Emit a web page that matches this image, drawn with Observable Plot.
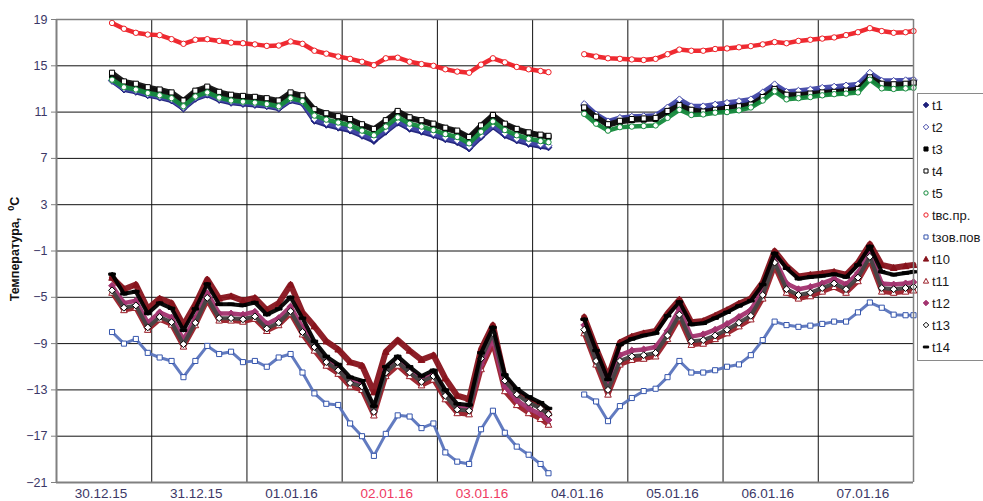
<!DOCTYPE html>
<html><head><meta charset="utf-8">
<script src="https://cdn.jsdelivr.net/npm/d3@7"></script>
<script src="https://cdn.jsdelivr.net/npm/@observablehq/plot@0.6"></script>
<style>
html,body{margin:0;padding:0;background:#fff;}
#chart{width:983px;height:501px;overflow:hidden;position:relative;}
</style></head><body><div id="chart"></div>
<script>
// hours since 30.12.15 00:00
const hours = [14,17,20,23,26,29,32,35,38,41,44,47,50,53,56,59,62,65,68,71,74,77,80,83,86,89,92,95,98,101,104,107,110,113,116,119,122,124,
  133,136,139,142,145,148,151,154,157,160,163,166,169,172,175,178,181,184,187,190,193,196,199,202,205,208,211,214,216];

const t1 = [13.7,12.95,12.75,12.45,12.25,12.0,11.3,12.15,12.5,12.05,11.8,11.7,11.62,11.5,11.3,12.0,11.75,10.25,9.9,9.65,9.4,8.95,8.5,9.3,10.1,9.55,9.3,9.0,8.65,8.4,7.85,8.85,9.75,9.0,8.55,8.25,8.05,7.95,
  11.55,10.75,10.1,10.4,10.55,10.6,10.65,11.25,11.75,11.35,11.2,11.35,11.5,11.65,11.8,12.45,13.15,12.65,12.65,12.75,12.85,12.9,13.0,13.15,14.15,13.6,13.55,13.6,13.7];
const t2 = [13.75,13.05,12.85,12.55,12.35,12.1,11.4,12.25,12.6,12.15,11.9,11.8,11.72,11.6,11.4,12.1,11.85,10.4,10.05,9.8,9.55,9.1,8.7,9.45,10.25,9.7,9.45,9.15,8.8,8.55,8.0,9.0,9.9,9.15,8.7,8.4,8.2,8.1,
  11.7,10.8,10.2,10.5,10.6,10.65,10.7,11.4,12.1,11.5,11.5,11.65,11.8,11.95,12.1,12.7,13.4,12.75,12.85,12.95,13.1,13.2,13.3,13.4,14.4,13.7,13.7,13.75,13.8];
const t3 = [14.15,13.5,13.3,13.0,12.8,12.55,11.85,12.7,13.05,12.6,12.35,12.25,12.17,12.05,11.85,12.55,12.3,11.15,10.8,10.55,10.3,9.85,9.45,10.2,11.0,10.45,10.2,9.9,9.55,9.3,8.75,9.75,10.65,9.9,9.45,9.15,8.95,8.85,
  11.3,10.5,9.85,10.15,10.3,10.35,10.4,11.0,11.5,11.1,10.95,11.1,11.25,11.4,11.55,12.2,12.9,12.4,12.4,12.5,12.6,12.65,12.75,12.9,13.9,13.35,13.3,13.35,13.45];
const t4 = [14.4,13.65,13.45,13.15,12.95,12.7,12.0,12.85,13.2,12.75,12.5,12.4,12.32,12.2,12.0,12.7,12.45,11.25,10.9,10.65,10.4,9.95,9.55,10.3,11.1,10.55,10.3,10.0,9.65,9.4,8.85,9.85,10.75,10.0,9.55,9.25,9.05,8.95,
  11.4,10.6,9.95,10.25,10.4,10.45,10.5,11.1,11.6,11.2,11.05,11.2,11.35,11.5,11.65,12.3,13.0,12.5,12.5,12.6,12.7,12.75,12.85,13.0,14.0,13.45,13.4,13.45,13.55];
const t5 = [13.8,13.15,12.95,12.65,12.45,12.2,11.5,12.35,12.7,12.25,12.0,11.9,11.82,11.7,11.5,12.2,11.95,10.7,10.35,10.1,9.85,9.4,9.0,9.75,10.55,10.0,9.75,9.45,9.1,8.85,8.3,9.3,10.2,9.45,9.0,8.7,8.5,8.4,
  10.85,10.0,9.4,9.7,9.75,9.8,9.85,10.5,11.2,10.75,10.8,10.95,11.0,11.15,11.4,12.0,12.8,12.1,12.2,12.3,12.45,12.55,12.6,12.7,13.8,13.05,13.0,13.05,13.1];
const tvs = [18.7,18.2,17.85,17.7,17.65,17.3,16.9,17.25,17.3,17.15,17.0,16.95,16.85,16.72,16.75,17.1,16.9,16.3,16.05,15.8,15.6,15.35,15.05,15.65,15.7,15.35,15.15,15.0,14.7,14.5,14.4,15.1,15.65,15.3,14.9,14.7,14.55,14.45,
  16.0,15.8,15.65,15.6,15.55,15.5,15.6,16.0,16.4,16.3,16.3,16.45,16.5,16.6,16.7,16.85,17.05,16.95,17.15,17.25,17.35,17.45,17.65,17.9,18.25,18.0,17.85,17.9,18.0];
const tzov = [-8.0,-9.0,-8.6,-9.8,-10.2,-10.5,-11.9,-10.5,-9.2,-9.9,-9.7,-10.6,-10.5,-11.0,-10.2,-9.9,-11.5,-13.3,-14.2,-14.3,-15.9,-17.0,-18.7,-16.8,-15.2,-15.3,-16.3,-15.9,-18.4,-19.2,-19.4,-16.4,-14.8,-16.7,-17.9,-18.6,-19.4,-20.2,
  -13.4,-14.0,-15.7,-14.4,-13.7,-13.1,-12.9,-11.9,-10.5,-11.5,-11.5,-11.3,-11.0,-10.8,-10.0,-8.7,-7.1,-7.4,-7.55,-7.45,-7.3,-7.1,-7.1,-6.3,-5.45,-5.9,-6.5,-6.55,-6.55];
const t10 = [-3.3,-4.3,-3.9,-6.0,-5.1,-5.5,-7.4,-5.6,-3.45,-5.1,-4.9,-5.3,-5.05,-6.1,-5.5,-3.9,-6.3,-7.5,-8.8,-9.5,-10.6,-10.9,-13.2,-9.7,-8.7,-9.6,-10.4,-10.0,-12.0,-13.5,-13.8,-9.5,-7.4,-12.0,-13.2,-13.9,-14.5,-15.0,
  -6.7,-9.4,-11.9,-8.9,-8.4,-8.1,-7.9,-6.4,-5.2,-7.15,-7.05,-6.6,-6.1,-5.55,-5.1,-3.7,-1.0,-2.3,-3.2,-3.05,-2.95,-2.8,-3.05,-2.0,-0.4,-2.2,-2.45,-2.3,-2.2];
const t11 = [-4.6,-6.1,-5.9,-7.8,-6.9,-7.35,-9.25,-7.4,-5.25,-7.0,-7.0,-7.1,-6.85,-7.9,-7.4,-6.4,-8.2,-9.6,-10.9,-11.6,-12.7,-13.0,-15.2,-11.8,-10.9,-11.8,-12.6,-12.1,-13.8,-15.0,-15.1,-11.2,-9.0,-13.1,-14.3,-15.0,-15.5,-16.0,
  -8.1,-10.8,-13.4,-10.8,-10.4,-10.3,-10.1,-8.6,-6.8,-9.1,-9.0,-8.6,-8.1,-7.5,-6.9,-5.1,-2.3,-4.6,-5.1,-4.9,-4.5,-4.1,-4.6,-3.6,-1.8,-4.5,-4.6,-4.5,-4.4];
const t12 = [-4.0,-5.5,-5.3,-7.2,-6.3,-6.75,-8.65,-6.8,-4.65,-6.4,-6.4,-6.5,-6.25,-7.3,-6.8,-5.8,-7.6,-9.1,-10.4,-11.1,-12.2,-12.5,-14.7,-11.3,-10.4,-11.3,-12.1,-11.6,-13.3,-14.5,-14.6,-10.8,-8.6,-12.7,-13.9,-14.6,-15.1,-15.6,
  -7.4,-10.1,-12.6,-10.0,-9.6,-9.5,-9.3,-7.9,-6.0,-8.4,-8.2,-7.8,-7.3,-6.7,-6.1,-4.4,-1.7,-3.8,-4.3,-4.1,-3.8,-3.4,-3.9,-2.9,-1.2,-3.8,-3.9,-3.8,-3.7];
const t13 = [-4.4,-5.9,-5.7,-7.6,-6.7,-7.15,-9.05,-7.2,-5.05,-6.8,-6.8,-6.9,-6.65,-7.7,-7.2,-6.2,-8.0,-9.3,-10.6,-11.3,-12.4,-12.7,-14.9,-11.5,-10.6,-11.5,-12.3,-11.8,-13.5,-14.7,-14.8,-10.3,-8.1,-12.2,-13.4,-14.1,-14.6,-15.1,
  -7.8,-10.5,-13.0,-10.5,-10.1,-10.0,-9.8,-8.3,-6.5,-8.8,-8.7,-8.3,-7.8,-7.2,-6.6,-4.8,-2.0,-4.3,-4.8,-4.6,-4.2,-3.8,-4.3,-3.3,-1.5,-4.2,-4.3,-4.2,-4.1];
const t14 = [-3.0,-4.7,-4.5,-6.4,-5.5,-5.95,-7.85,-6.0,-3.85,-5.6,-5.6,-5.7,-5.45,-6.5,-6.0,-5.0,-6.8,-8.8,-10.1,-10.8,-11.9,-12.2,-14.4,-11.0,-10.1,-11.0,-11.8,-11.3,-13.0,-14.2,-14.3,-9.8,-7.6,-11.7,-12.9,-13.6,-14.1,-14.6,
  -6.9,-9.6,-12.1,-9.1,-8.6,-8.3,-8.1,-6.6,-5.4,-7.35,-7.25,-6.8,-6.3,-5.75,-5.3,-3.9,-1.2,-2.5,-3.4,-3.25,-3.15,-3.0,-3.25,-2.2,-0.6,-2.8,-3.05,-2.9,-2.8];

const yTicks = [-21,-17,-13,-9,-5,-1,3,7,11,15,19];
const dayLabels = ["30.12.15","31.12.15","01.01.16","02.01.16","03.01.16","04.01.16","05.01.16","06.01.16","07.01.16"];
const redDays = ["02.01.16","03.01.16"];
const seriesNames = ["t1","t2","t3","t4","t5","tвс.пр.","tзов.пов","t10","t11","t12","t13","t14"];

// marker shapes (Excel-like)
const R = s => Math.sqrt(s / Math.PI);
const shapes = {
  diamond: {draw(c, s){const r=R(s)*1.15;c.moveTo(0,-r);c.lineTo(r,0);c.lineTo(0,r);c.lineTo(-r,0);c.closePath();}},
  square: {draw(c, s){const r=R(s)*0.85;c.rect(-r,-r,2*r,2*r);}},
  circle: {draw(c, s){const r=R(s)*0.9;c.moveTo(r,0);c.arc(0,0,r,0,2*Math.PI);}},
  triangle: {draw(c, s){const r=R(s)*1.1;c.moveTo(0,-r);c.lineTo(r,r*0.8);c.lineTo(-r,r*0.8);c.closePath();}},
  dash: {draw(c, s){const r=R(s)*1.1;c.rect(-r,-r*0.35,2*r,r*0.7);}}
};

const style = [
  {v:t1,  color:"#1c1f7a", shape:"diamond", hollow:false},
  {v:t2,  color:"#4248a8", shape:"diamond", hollow:true},
  {v:t3,  color:"#000000", shape:"square", hollow:false},
  {v:t4,  color:"#000000", shape:"square", hollow:true},
  {v:t5,  color:"#148a3c", shape:"circle", hollow:true},
  {v:tvs, color:"#ee1f26", shape:"circle", hollow:true},
  {v:tzov,color:"#3555ac", shape:"square", hollow:true},
  {v:t10, color:"#87131c", shape:"triangle", hollow:false},
  {v:t11, color:"#9a1e28", shape:"triangle", hollow:true},
  {v:t12, color:"#a3336f", shape:"diamond", hollow:false},
  {v:t13, color:"#000000", shape:"diamond", hollow:true},
  {v:t14, color:"#000000", shape:"dash", hollow:false}
];
const lineColor = ["#1c1f7a","#4248a8","#111","#111","#148a3c","#ee1f26","#5a74bd","#87131c","#9a1e28","#a3336f","#444","#000"];
const lineWidth = [5,5,5,5,4.5,4.5,3,6,5,4.5,4,4];

const marks = [
  Plot.ruleY(yTicks, {stroke:"#111", strokeWidth:1}),
  Plot.ruleX(dayLabels.map((d,i)=>i*24).concat([216]), {stroke:"#111", strokeWidth:1})
];
style.forEach((s, k) => {
  const data = hours.map((h,i)=>({h, v:s.v[i], seg: h < 128 ? "a" : "b"}));
  marks.push(Plot.line(data, {x:"h", y:"v", z:"seg", stroke: lineColor[k], strokeWidth: lineWidth[k], strokeOpacity: 0.95}));
  marks.push(Plot.dot(data, {x:"h", y:"v", symbol: shapes[s.shape], r: 3,
    fill: s.hollow ? "#fff" : s.color, stroke: s.color, strokeWidth: 1}));
});
marks.push(
  Plot.ruleX([0], {stroke:"#808080", strokeWidth:2}),
  Plot.ruleY([-21], {stroke:"#808080", strokeWidth:2}),
  Plot.ruleX([216], {stroke:"#808080", strokeWidth:1.5}),
  Plot.ruleY([19], {stroke:"#808080", strokeWidth:1.5}),
  Plot.axisY(yTicks, {tickSize:5, tickPadding:4, stroke:"#808080", fill:"#3b3766", fontSize:12.5, label:null}),
  Plot.text(dayLabels.filter(d=>!redDays.includes(d)), {x: d=>dayLabels.indexOf(d)*24+12, frameAnchor:"bottom", lineAnchor:"top", dy:6, dx:-3, fontSize:13.5, fill:"#3b3766"}),
  Plot.text(redDays, {x: d=>dayLabels.indexOf(d)*24+12, frameAnchor:"bottom", lineAnchor:"top", dy:6, dx:-3, fontSize:13.5, fill:"#ef3a62"})
);

const chart = Plot.plot({
  width: 983, height: 501,
  marginLeft: 56, marginRight: 70, marginTop: 19, marginBottom: 19,
  x: {domain:[0,216], axis:null},
  y: {domain:[-21,19], axis:null},
  style: {fontFamily:"'Liberation Sans', Arial, sans-serif", fontSize:"12px", background:"#fff", overflow:"visible"},
  marks
});
document.getElementById("chart").appendChild(chart);

const svg = d3.select(chart);
// y title
const ttl = svg.append("text")
  .attr("transform","translate(19,249) rotate(-90)")
  .attr("text-anchor","middle")
  .attr("font-family","'Liberation Sans', Arial, sans-serif")
  .attr("font-weight","bold").attr("font-size",12.5).attr("fill","#111");
ttl.append("tspan").text("Температура,  ");
ttl.append("tspan").attr("font-size",9).attr("dy",-5).text("0");
ttl.append("tspan").attr("dy",5).text("C");

// legend
const lg = svg.append("g").attr("text-anchor","start");
lg.append("rect").attr("x",917.5).attr("y",93.5).attr("width",80).attr("height",267)
  .attr("fill","#fff").attr("stroke","#8a8a8a").attr("stroke-width",1);
seriesNames.forEach((n,i) => {
  const s = style[i], y = 105 + i*22;
  lg.append("path").attr("transform",`translate(926,${y})`)
    .attr("d", d3.symbol(shapes[s.shape], 2.4*2.4*Math.PI)())
    .attr("fill", s.hollow ? "#fff" : s.color).attr("stroke", s.color).attr("stroke-width",1);
  lg.append("text").attr("x",932).attr("y",y).attr("dy","0.35em").attr("text-anchor","start")
    .attr("font-family","'Liberation Sans', Arial, sans-serif").attr("font-size",13).attr("fill","#1a1a1a").text(n);
});
</script></body></html>
